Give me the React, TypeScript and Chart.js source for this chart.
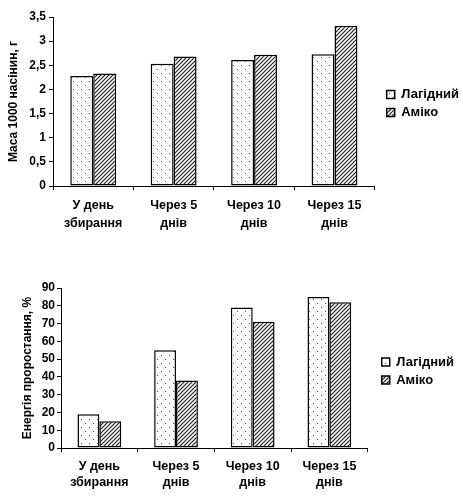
import React, { useRef, useEffect } from 'react'
import Chart from 'chart.js/auto'

const categories = [
  ['У день', 'збирання'],
  ['Через 5', 'днів'],
  ['Через 10', 'днів'],
  ['Через 15', 'днів'],
]
const seriesNames = ['Лагідний', 'Аміко']
const massLagidny = [2.28, 2.53, 2.61, 2.73]
const massAmiko = [2.33, 2.68, 2.72, 3.32]
const energyLagidny = [19, 55, 79, 85]
const energyAmiko = [15, 38, 71, 82]
const massTitle = 'Маса 1000 насінин, г'
const energyTitle = 'Енергія проростання, %'

const FONT = '"Liberation Sans", Arial, sans-serif'

function dotPattern(ctx: CanvasRenderingContext2D) {
  const c = document.createElement('canvas')
  c.width = 8
  c.height = 8
  const p = c.getContext('2d')!
  p.fillStyle = '#fff'
  p.fillRect(0, 0, 8, 8)
  p.fillStyle = '#555'
  p.fillRect(1, 1, 1, 1)
  p.fillRect(5, 5, 1, 1)
  return ctx.createPattern(c, 'repeat')!
}

function hatchPattern(ctx: CanvasRenderingContext2D) {
  const s = 4
  const c = document.createElement('canvas')
  c.width = s
  c.height = s
  const p = c.getContext('2d')!
  p.fillStyle = '#fff'
  p.fillRect(0, 0, s, s)
  p.strokeStyle = '#222'
  p.lineWidth = 1.2
  p.beginPath()
  p.moveTo(0, s)
  p.lineTo(s, 0)
  p.moveTo(-1, 1)
  p.lineTo(1, -1)
  p.moveTo(s - 1, s + 1)
  p.lineTo(s + 1, s - 1)
  p.stroke()
  return ctx.createPattern(c, 'repeat')!
}

// nudges the legend box a little after layout
const legendShift = {
  id: 'legendShift',
  afterLayout(chart: any, _args: any, opts: any) {
    const l = chart.legend
    if (!l) return
    l.left += opts.dx || 0
    l.right += opts.dx || 0
    l.top += opts.dy || 0
    l.bottom += opts.dy || 0
  },
}

type Cfg = {
  a: number[]
  b: number[]
  max: number
  step: number
  title: string
  yWidth: number
  xHeight: number
  padTop: number
  padRight: number
  titlePad: number
  tickPad: number
  lineHeight: number
  dx: number
  dy: number
}

function BarPanel(props: Cfg) {
  const chartRef = useRef<HTMLCanvasElement>(null)

  useEffect(() => {
    if (!chartRef.current) return
    const ctx = chartRef.current.getContext('2d')
    if (!ctx) return
    const font = { family: FONT, size: 12, weight: 'bold' as const }
    const chart = new Chart(ctx, {
      type: 'bar',
      data: {
        labels: categories,
        datasets: [
          {
            label: seriesNames[0],
            data: props.a,
            backgroundColor: dotPattern(ctx),
            borderColor: '#000',
            borderWidth: 1.5,
            borderSkipped: false,
          },
          {
            label: seriesNames[1],
            data: props.b,
            backgroundColor: hatchPattern(ctx),
            borderColor: '#000',
            borderWidth: 1.5,
            borderSkipped: false,
          },
        ],
      },
      options: {
        animation: false,
        responsive: true,
        maintainAspectRatio: false,
        datasets: { bar: { categoryPercentage: 0.57, barPercentage: 1 } },
        layout: { padding: { top: props.padTop, right: props.padRight, bottom: 0, left: 0 } },
        scales: {
          x: {
            grid: { drawOnChartArea: false, drawTicks: true, tickLength: 4, color: '#000' },
            border: { display: true, color: '#000', width: 1 },
            ticks: {
              color: '#000',
              font: { ...font, size: 12.5, lineHeight: props.lineHeight },
              padding: 7,
              maxRotation: 0,
              autoSkip: false,
            },
            afterFit: (s: any) => {
              s.height = props.xHeight
            },
          },
          y: {
            min: 0,
            max: props.max,
            grid: { drawOnChartArea: false, drawTicks: true, tickLength: 4, color: '#000' },
            border: { display: true, color: '#000', width: 1 },
            ticks: {
              stepSize: props.step,
              color: '#000',
              font,
              padding: props.tickPad,
              callback: (v: any) => String(v).replace('.', ','),
            },
            title: {
              display: true,
              text: props.title,
              color: '#000',
              font,
              padding: { top: props.titlePad, bottom: 0 },
            },
            afterFit: (s: any) => {
              s.width = props.yWidth
            },
          },
        },
        plugins: {
          legend: {
            position: 'right',
            fullSize: false,
            labels: {
              color: '#000',
              font: { ...font, size: 13 },
              boxWidth: 8,
              boxHeight: 8,
              padding: 5,
            },
          },
          tooltip: { enabled: false },
          legendShift: { dx: props.dx, dy: props.dy },
        } as any,
      },
      plugins: [legendShift],
    })
    return () => {
      chart.destroy()
    }
  }, [])

  return (
    <div style={{ width: 463, height: 250, position: 'relative' }}>
      <canvas ref={chartRef}></canvas>
    </div>
  )
}

export default function App() {
  return (
    <div style={{ position: 'absolute', left: 0, top: 0, width: 463, height: 500, background: '#fff' }}>
      <BarPanel
        a={massLagidny}
        b={massAmiko}
        max={3.5}
        step={0.5}
        title={massTitle}
        yWidth={53}
        xHeight={64}
        padTop={17}
        padRight={1}
        titlePad={6}
        tickPad={3}
        lineHeight={1.4}
        dx={7}
        dy={2}
      />
      <BarPanel
        a={energyLagidny}
        b={energyAmiko}
        max={90}
        step={10}
        title={energyTitle}
        yWidth={61}
        xHeight={52}
        padTop={38}
        padRight={8}
        titlePad={20}
        tickPad={2}
        lineHeight={1.25}
        dx={9}
        dy={3}
      />
    </div>
  )
}
